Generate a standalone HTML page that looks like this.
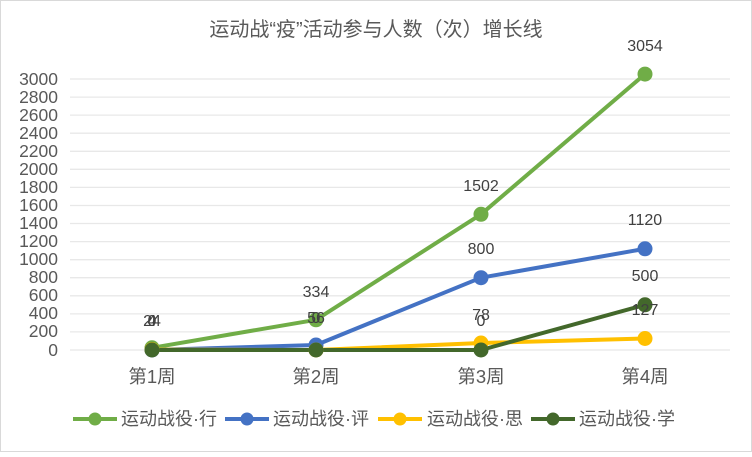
<!DOCTYPE html>
<html><head><meta charset="utf-8"><style>
body{margin:0;background:#fff}
svg text{font-family:"Liberation Sans","Noto Sans CJK SC",sans-serif}
</style></head><body>
<svg width="752" height="452" xmlns="http://www.w3.org/2000/svg">
<rect x="0.5" y="0.5" width="751" height="451" fill="#fff" stroke="#d9d9d9"/>
<text x="376" y="36" text-anchor="middle" font-size="20" fill="#595959">运动战“疫”活动参与人数（次）增长线</text>
<g stroke="#e8e8e8" stroke-width="1.3">
<line x1="70" x2="730" y1="79" y2="79"/><line x1="70" x2="730" y1="97.1" y2="97.1"/><line x1="70" x2="730" y1="115.1" y2="115.1"/><line x1="70" x2="730" y1="133.2" y2="133.2"/><line x1="70" x2="730" y1="151.3" y2="151.3"/><line x1="70" x2="730" y1="169.3" y2="169.3"/><line x1="70" x2="730" y1="187.4" y2="187.4"/><line x1="70" x2="730" y1="205.5" y2="205.5"/><line x1="70" x2="730" y1="223.5" y2="223.5"/><line x1="70" x2="730" y1="241.6" y2="241.6"/><line x1="70" x2="730" y1="259.7" y2="259.7"/><line x1="70" x2="730" y1="277.7" y2="277.7"/><line x1="70" x2="730" y1="295.8" y2="295.8"/><line x1="70" x2="730" y1="313.9" y2="313.9"/><line x1="70" x2="730" y1="331.9" y2="331.9"/><line x1="70" x2="730" y1="350" y2="350"/>
</g>
<g font-size="17.5" fill="#595959" text-anchor="end">
<text x="58" y="85">3000</text><text x="58" y="103">2800</text><text x="58" y="121">2600</text><text x="58" y="139">2400</text><text x="58" y="157">2200</text><text x="58" y="175">2000</text><text x="58" y="193">1800</text><text x="58" y="211">1600</text><text x="58" y="229">1400</text><text x="58" y="247">1200</text><text x="58" y="265">1000</text><text x="58" y="283">800</text><text x="58" y="301">600</text><text x="58" y="319">400</text><text x="58" y="337">200</text><text x="58" y="356">0</text>
</g>
<g font-size="18.5" fill="#595959" text-anchor="middle">
<text x="152" y="383">第1周</text><text x="316" y="383">第2周</text><text x="481" y="383">第3周</text><text x="645" y="383">第4周</text>
</g>
<g fill="none" stroke-width="4" stroke-linejoin="round">
<polyline stroke="#70AD47" points="152,347.8 316,319.8 481,214.3 645,74.1"/>
<polyline stroke="#4472C4" points="152,350 316,345 481,277.7 645,248.8"/>
<polyline stroke="#FFC000" points="152,349.6 316,350 481,343 645,338.5"/>
<polyline stroke="#43682B" points="152,350 316,350 481,350 645,304.8"/>
</g>
<g fill="#70AD47"><circle cx="152" cy="347.8" r="7.5"/><circle cx="316" cy="319.8" r="7.5"/><circle cx="481" cy="214.3" r="7.5"/><circle cx="645" cy="74.1" r="7.5"/></g>
<g fill="#4472C4"><circle cx="152" cy="350" r="7.5"/><circle cx="316" cy="345" r="7.5"/><circle cx="481" cy="277.7" r="7.5"/><circle cx="645" cy="248.8" r="7.5"/></g>
<g fill="#FFC000"><circle cx="152" cy="349.6" r="7.5"/><circle cx="316" cy="350" r="7.5"/><circle cx="481" cy="343" r="7.5"/><circle cx="645" cy="338.5" r="7.5"/></g>
<g fill="#43682B"><circle cx="152" cy="350" r="7.5"/><circle cx="316" cy="350" r="7.5"/><circle cx="481" cy="350" r="7.5"/><circle cx="645" cy="304.8" r="7.5"/></g>
<g font-size="16" fill="#404040" text-anchor="middle">
<text x="152" y="326">24</text><text x="152" y="326">0</text><text x="152" y="326">4</text>
<text x="316" y="297">334</text><text x="316" y="323">56</text><text x="316" y="323">0</text>
<text x="481" y="191">1502</text><text x="481" y="254">800</text><text x="481" y="320">78</text><text x="481" y="326">0</text>
<text x="645" y="51">3054</text><text x="645" y="225">1120</text><text x="645" y="281">500</text><text x="645" y="315">127</text>
</g>
<g font-size="18" fill="#595959">
<line x1="73" x2="117" y1="419" y2="419" stroke="#70AD47" stroke-width="4"/><circle cx="95" cy="419" r="6.5" fill="#70AD47"/>
<text x="121" y="425">运动战役·行</text>
<line x1="225" x2="269" y1="419" y2="419" stroke="#4472C4" stroke-width="4"/><circle cx="247" cy="419" r="6.5" fill="#4472C4"/>
<text x="273" y="425">运动战役·评</text>
<line x1="378" x2="422" y1="419" y2="419" stroke="#FFC000" stroke-width="4"/><circle cx="400" cy="419" r="6.5" fill="#FFC000"/>
<text x="427" y="425">运动战役·思</text>
<line x1="531" x2="575" y1="419" y2="419" stroke="#43682B" stroke-width="4"/><circle cx="553" cy="419" r="6.5" fill="#43682B"/>
<text x="579" y="425">运动战役·学</text>
</g>
</svg>
</body></html>
